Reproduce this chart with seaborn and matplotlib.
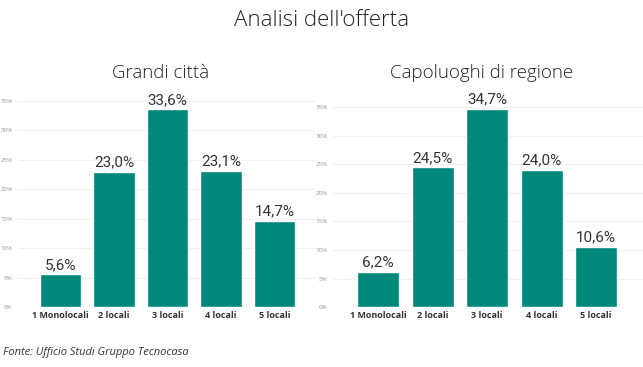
import matplotlib
matplotlib.use("Agg")
import matplotlib.pyplot as plt
import seaborn as sns
import pandas as pd
from matplotlib.ticker import FuncFormatter

# data
categorie = ["1 Monolocali", "2 locali", "3 locali", "4 locali", "5 locali"]
grandi_citta = [5.6, 23.0, 33.6, 23.1, 14.7]
capoluoghi = [6.2, 24.5, 34.7, 24.0, 10.6]
titoli = ["Grandi città", "Capoluoghi di regione"]

sns.set_theme(style="white")
plt.rcParams['font.family'] = ['Open Sans', 'DejaVu Sans']

colore = "#00897B"

fig = plt.figure(figsize=(6.43, 3.67), dpi=100)
fig.text(0.5, 0.945, "Analisi dell'offerta", ha="center", va="center",
         fontsize=16, color="#222222", fontweight="light")

pannelli = [
    (grandi_citta, [0.028, 0.163, 0.462, 0.578], 36.0, (-0.794, 4.757)),
    (capoluoghi, [0.518, 0.163, 0.482, 0.578], 37.1, (-0.826, 4.86)),
]

for (valori, pos, ytop, xl), titolo in zip(pannelli, titoli):
    ax = fig.add_axes(pos)
    df = pd.DataFrame({"cat": categorie, "val": valori})
    sns.barplot(data=df, x="cat", y="val", color=colore, width=0.77,
                saturation=1, ax=ax)
    ax.set_ylim(0, ytop)
    ax.set_xlim(*xl)
    ax.set_yticks(range(0, 36, 5))
    ax.yaxis.set_major_formatter(FuncFormatter(lambda v, p: f"{int(v)}%"))
    ax.tick_params(axis="y", labelsize=4.5, labelcolor="#999999", length=0, pad=4)
    ax.tick_params(axis="x", labelsize=6.5, labelcolor="#333333", length=0, pad=3)
    for lab in ax.get_xticklabels():
        lab.set_fontweight("bold")
    ax.grid(axis="y", color="#f0f0f0", linewidth=0.8)
    ax.set_axisbelow(True)
    for s in ax.spines.values():
        s.set_visible(False)
    ax.set_xlabel("")
    ax.set_ylabel("")
    for i, v in enumerate(valori):
        ax.text(i, v + 0.4, f"{v:.1f}%".replace(".", ","), ha="center",
                va="bottom", fontsize=11, color="#333333",
                family=["Roboto", "DejaVu Sans"])
    cx = pos[0] + pos[2] / 2
    fig.text(cx - 0.01 if titolo == titoli[0] else cx - 0.01, 0.8, titolo,
             ha="center", va="center", fontsize=13.5, color="#222222",
             fontweight="light")

fig.text(0.005, 0.04, "Fonte: Ufficio Studi Gruppo Tecnocasa", fontsize=8,
         style="italic", color="#333333", ha="left", va="center")

fig.savefig("out.png", dpi=100, facecolor="white")
